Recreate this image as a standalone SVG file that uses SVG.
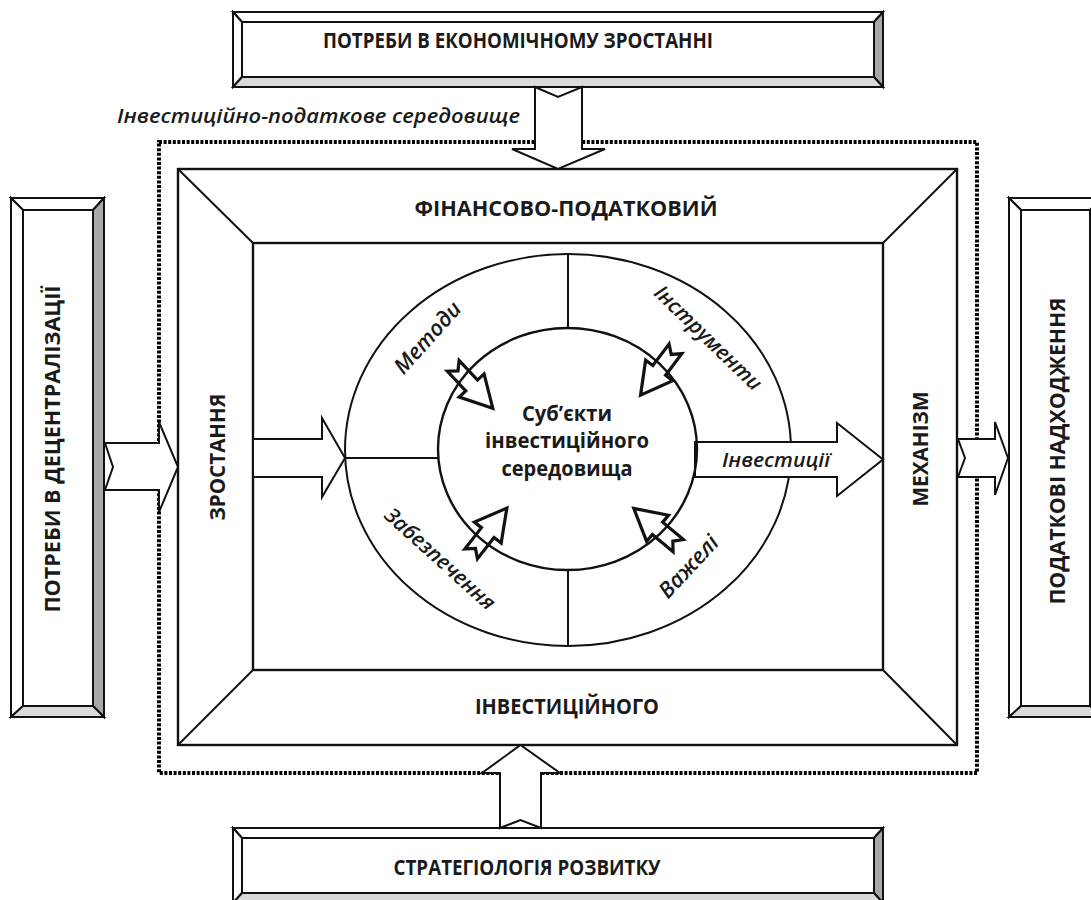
<svg xmlns="http://www.w3.org/2000/svg" xmlns:xlink="http://www.w3.org/1999/xlink" width="1091" height="900" viewBox="0 0 1091 900">
<style>
.ln{fill:none;stroke:#111;stroke-width:2}
.bv{stroke:#111;stroke-width:2;stroke-linejoin:miter}
.w{fill:#fff}
.g1{fill:#a8a8a8}
.g2{fill:#dadada}
.ar{fill:#fff;stroke:#111;stroke-width:2;stroke-linejoin:miter}
.sa{fill:#fff;stroke:#111;stroke-width:3.2;stroke-linejoin:miter}
.dot{fill:none;stroke:#000;stroke-width:4;stroke-dasharray:3 1.6}
.t{font-family:"Open Sans","Liberation Sans",sans-serif;font-weight:700;fill:#1a1a1a}
.c{text-anchor:middle}
.it{font-family:"Open Sans","Liberation Sans",sans-serif;font-style:italic;font-weight:600;fill:#1a1a1a}
</style>
<defs>
<path id="sarrow" d="M-29,-8 L-2,-8 L-2,-17 L29,0 L-2,17 L-2,8 L-29,8 L-22,0 Z"/>
</defs>
<rect width="1091" height="900" fill="#fff"/>

<!-- dotted environment boundary -->
<rect class="dot" x="159" y="142" width="818" height="631"/>
<text class="it" x="117" y="123" font-size="20" textLength="403" lengthAdjust="spacingAndGlyphs">Інвестиційно-податкове середовище</text>

<!-- top box -->
<g id="top-box">
<polygon class="bv w" points="233,12 883,12 874,22 242,22"/>
<polygon class="bv w" points="233,12 242,22 242,77 233,87"/>
<polygon class="bv g1" points="883,12 883,87 874,77 874,22"/>
<polygon class="bv g2" points="233,87 883,87 874,77 242,77"/>
<rect class="bv w" x="242" y="22" width="632" height="55"/>
<text class="t c" x="518" y="48" font-size="22" textLength="390" lengthAdjust="spacingAndGlyphs">ПОТРЕБИ В ЕКОНОМІЧНОМУ ЗРОСТАННІ</text>
</g>

<!-- bottom box -->
<g id="bottom-box">
<polygon class="bv w" points="233,828 883,828 874,838 242,838"/>
<polygon class="bv w" points="233,828 242,838 242,893 233,903"/>
<polygon class="bv g1" points="883,828 883,903 874,893 874,838"/>
<polygon class="bv g2" points="233,903 883,903 874,893 242,893"/>
<rect class="bv w" x="242" y="838" width="632" height="55"/>
<text class="t c" x="527" y="875" font-size="22" textLength="267" lengthAdjust="spacingAndGlyphs">СТРАТЕГІОЛОГІЯ РОЗВИТКУ</text>
</g>

<!-- left box -->
<g id="left-box">
<polygon class="bv w" points="11,198 104,198 93,210 23,210"/>
<polygon class="bv w" points="11,198 23,210 23,706 11,717"/>
<polygon class="bv g1" points="104,198 104,717 93,706 93,210"/>
<polygon class="bv g2" points="11,717 104,717 93,706 23,706"/>
<rect class="bv w" x="23" y="210" width="70" height="496"/>
<text class="t c" transform="translate(60,449) rotate(-90)" font-size="22" textLength="327" lengthAdjust="spacingAndGlyphs">ПОТРЕБИ В ДЕЦЕНТРАЛІЗАЦІЇ</text>
</g>

<!-- right box -->
<g id="right-box">
<polygon class="bv w" points="1009,198 1102,198 1090,210 1021,210"/>
<polygon class="bv w" points="1009,198 1021,210 1021,706 1009,717"/>
<polygon class="bv g1" points="1102,198 1102,717 1090,706 1090,210"/>
<polygon class="bv g2" points="1009,717 1102,717 1090,706 1021,706"/>
<rect class="bv w" x="1021" y="210" width="69" height="496"/>
<text class="t c" transform="translate(1065,451) rotate(-90)" font-size="22" textLength="307" lengthAdjust="spacingAndGlyphs">ПОДАТКОВІ НАДХОДЖЕННЯ</text>
</g>

<!-- mechanism frame -->
<g id="frame">
<rect x="178" y="169" width="779" height="576" fill="#fff" stroke="#111" stroke-width="2.4"/>
<rect x="253" y="243" width="630" height="427" fill="#fff" stroke="#111" stroke-width="2.4"/>
<line class="ln" x1="178" y1="169" x2="253" y2="243"/>
<line class="ln" x1="957" y1="169" x2="883" y2="243"/>
<line class="ln" x1="178" y1="745" x2="253" y2="670"/>
<line class="ln" x1="957" y1="745" x2="883" y2="670"/>
<text class="t c" x="566" y="216" font-size="22" textLength="303" lengthAdjust="spacingAndGlyphs">ФІНАНСОВО-ПОДАТКОВИЙ</text>
<text class="t c" x="567" y="714" font-size="22" textLength="184" lengthAdjust="spacingAndGlyphs">ІНВЕСТИЦІЙНОГО</text>
<text class="t c" transform="translate(225,457) rotate(-90)" font-size="22" textLength="127" lengthAdjust="spacingAndGlyphs">ЗРОСТАННЯ</text>
<text class="t c" transform="translate(928,449) rotate(-90)" font-size="22" textLength="115" lengthAdjust="spacingAndGlyphs">МЕХАНІЗМ</text>
</g>

<!-- ring of instruments -->
<g id="ring">
<ellipse class="ln" cx="568" cy="450" rx="223" ry="196" stroke-width="1.8"/>
<line class="ln" x1="568" y1="254" x2="568" y2="328" stroke-width="1.8"/>
<line class="ln" x1="568" y1="570" x2="568" y2="646" stroke-width="1.8"/>
<line class="ln" x1="345" y1="458" x2="438" y2="458" stroke-width="1.8"/>
<text class="it c" transform="translate(428,338) rotate(-48)" y="7" font-size="22">Методи</text>
<text class="it c" transform="translate(708,338) rotate(44)" y="7" font-size="21">Інструменти</text>
<text class="it c" transform="translate(440,559) rotate(42)" y="7" font-size="21">Забезпечення</text>
<text class="it c" transform="translate(689,567) rotate(-47)" y="7" font-size="22">Важелі</text>
</g>

<!-- connectors -->
<g id="connectors">
<polygon class="ar" points="535,87 558,97 582,87 582,149 605,149 558,169 512,149 535,149"/>
<polygon class="ar" points="500,828 520.5,820 541,828 541,773 560,773 520.5,745 482,773 500,773"/>
<polygon class="ar" points="105,443 159,443 159,422 178,467 159,512 159,490 105,490 113,467"/>
<polygon class="ar" points="958,439 995,439 995,422 1008,458 995,495 995,477 958,477 965,458"/>
<polygon class="ar" points="253,439 322,439 322,418 345,458 322,497 322,477 253,477"/>
<polygon class="ar" points="695,442 837,442 837,423 883,459.5 837,496 837,477 695,477"/>
<use xlink:href="#sarrow" class="sa" transform="translate(473,387) rotate(47)"/>
<use xlink:href="#sarrow" class="sa" transform="translate(658,372) rotate(127)"/>
<use xlink:href="#sarrow" class="sa" transform="translate(489,531) rotate(-52)"/>
<use xlink:href="#sarrow" class="sa" transform="translate(656,527) rotate(-140)"/>
<text class="it" x="722" y="467" font-size="20" textLength="108" lengthAdjust="spacingAndGlyphs">Інвестиції</text>
</g>

<!-- subjects -->
<g id="subjects">
<ellipse cx="567.5" cy="449" rx="129.5" ry="121" fill="none" stroke="#111" stroke-width="2.4"/>
<text class="t c" x="567" y="421" font-size="21" textLength="90" lengthAdjust="spacingAndGlyphs">Суб’єкти</text>
<text class="t c" x="567" y="448" font-size="21" textLength="164" lengthAdjust="spacingAndGlyphs">інвестиційного</text>
<text class="t c" x="567" y="476" font-size="21" textLength="131" lengthAdjust="spacingAndGlyphs">середовища</text>
</g>
</svg>
